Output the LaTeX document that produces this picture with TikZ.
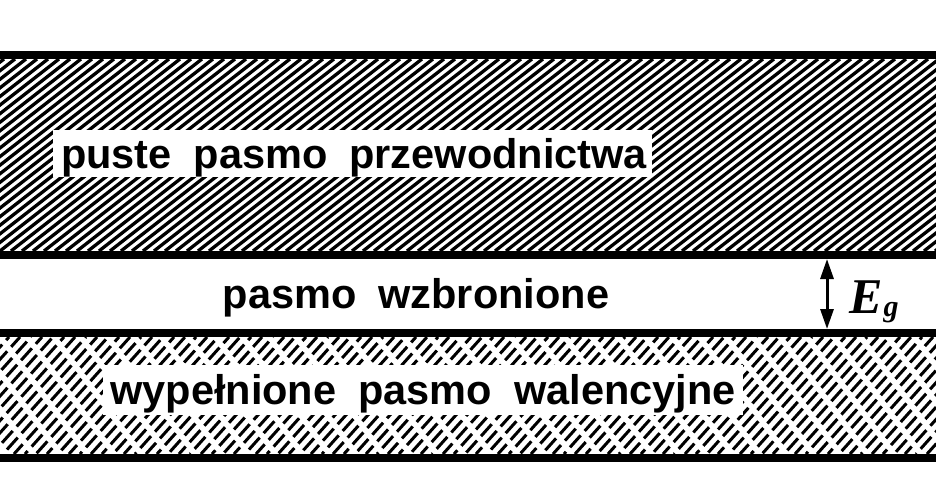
\documentclass[tikz,border=0pt]{standalone}
\usepackage{fontspec}
\setmainfont{Liberation Sans}
\newfontfamily\egfamily{Liberation Serif}
\usetikzlibrary{arrows.meta}
\newcommand{\bandfont}{\fontsize{41.5}{41.5}\selectfont\bfseries\spaceskip=22pt\relax}
\tikzset{
  bandline/.style={line width=8pt},
  hatchline/.style={line width=3.3pt},
  dashhatch/.style={line width=3pt, dash pattern=on 16pt off 6pt},
  labelbox/.style={fill=white, draw=none, inner sep=0pt},
  bandtext/.style={inner sep=0pt, anchor=base, font=\bandfont},
  gaparrow/.style={line width=3pt, {Triangle[length=20pt,width=13pt]}-{Triangle[length=20pt,width=13pt]}}
}
\begin{document}
\begin{tikzpicture}[x=1pt,y=-1pt]
\useasboundingbox (0,0) rectangle (936,500);
\fill[white] (0,0) rectangle (936,500);
% conduction band hatching
\begin{scope}
  \clip (0,59) rectangle (936,251);
  \foreach \x in {-330,-319,...,945}
    \draw[hatchline] (\x,251) -- ++(246,-192);
\end{scope}
% valence band dashed hatching
\begin{scope}
  \clip (0,337) rectangle (936,454);
  \foreach \x [count=\i, evaluate=\i as \ph using {mod(\i*9,22)}] in {-140,-129,...,945}
    \draw[dashhatch, dash phase=\ph pt] (\x,454) -- ++(105,-117);
\end{scope}
% band edges
\draw[bandline] (0,55) -- (936,55);
\draw[bandline] (0,255) -- (936,255);
\draw[bandline] (0,333) -- (936,333);
\draw[bandline] (0,458) -- (936,458);
% label boxes
\node[labelbox, minimum width=599pt, minimum height=47pt] (cbox) at (352.5,153.5) {};
\node[labelbox, minimum width=640pt, minimum height=50pt] (vbox) at (423,390) {};
% texts
\node[bandtext] (ctext) at (354,168) {puste pasmo przewodnictwa};
\node[bandtext] (gtext) at (416,308) {pasmo wzbronione};
\node[bandtext] (vtext) at (423,404) {wypełnione pasmo walencyjne};
% gap arrow
\coordinate (gtop) at (827,259);
\coordinate (gbot) at (827,329);
\draw[gaparrow] (gtop) -- (gbot);
\node[inner sep=0pt, anchor=base west] (eg) at (849,313)
  {\egfamily\bfseries\itshape\fontsize{50}{50}\selectfont E\kern1pt\raisebox{-3pt}{\fontsize{30}{30}\selectfont g}};
\end{tikzpicture}
\end{document}
